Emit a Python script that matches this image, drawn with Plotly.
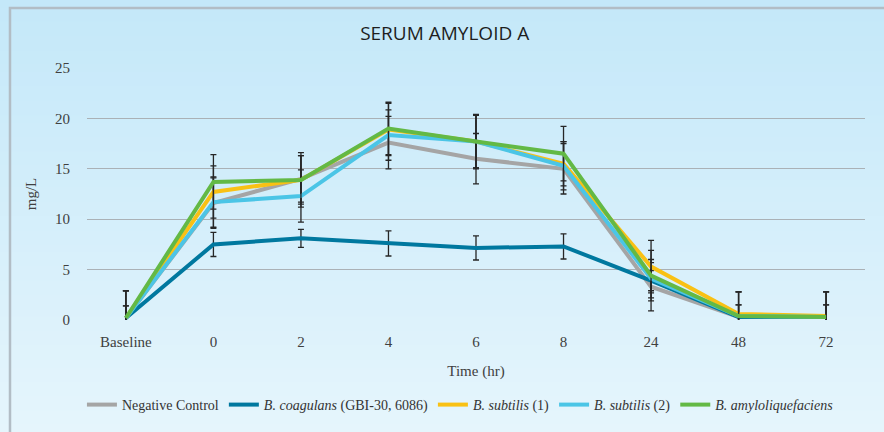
import plotly.graph_objects as go

# ---- data ----
categories = ["Baseline", "0", "2", "4", "6", "8", "24", "48", "72"]
series_names = [
    "Negative Control",
    "<i>B. coagulans</i> (GBI-30, 6086)",
    "<i>B. subtilis</i> (1)",
    "<i>B. subtilis</i> (2)",
    "<i>B. amyloliquefaciens</i>",
]
negative_control = [0.2, 11.6, 14.0, 17.6, 16.0, 15.0, 3.3, 0.3, 0.3]
b_coagulans = [0.2, 7.5, 8.1, 7.6, 7.15, 7.3, 3.9, 0.3, 0.3]
b_subtilis_1 = [0.2, 12.7, 13.9, 18.9, 17.7, 15.5, 5.3, 0.6, 0.4]
b_subtilis_2 = [0.2, 11.7, 12.3, 18.35, 17.7, 15.3, 4.1, 0.4, 0.3]
b_amylo = [0.2, 13.7, 13.9, 19.0, 17.7, 16.5, 4.4, 0.4, 0.3]

negative_control_err = [2.7, 2.5, 2.3, 2.6, 2.5, 2.5, 2.4, 2.5, 2.5]
b_coagulans_err = [1.2, 1.2, 0.9, 1.25, 1.2, 1.25, 1.0, 1.2, 1.2]
b_subtilis_1_err = [2.7, 2.6, 2.4, 2.6, 2.6, 2.2, 2.6, 2.2, 2.4]
b_subtilis_2_err = [1.2, 2.5, 2.6, 2.5, 2.6, 2.4, 1.9, 1.1, 1.2]
b_amylo_err = [2.7, 2.7, 2.7, 2.6, 2.7, 2.7, 2.5, 2.4, 2.5]

y_ticks = [0, 5, 10, 15, 20, 25]

values = [negative_control, b_coagulans, b_subtilis_1, b_subtilis_2, b_amylo]
errors = [negative_control_err, b_coagulans_err, b_subtilis_1_err, b_subtilis_2_err, b_amylo_err]
colors = ["#a5a5a5", "#00789f", "#f9c114", "#4bc5e6", "#63b945"]

# ---- layout geometry ----
W, H = 884, 432
ML, MR, MT, MB = 87, 19, 68, 112
PW, PH = W - ML - MR, H - MT - MB


def px_x(x):
    return (x - ML) / PW


def px_y(y):
    return (H - MB - y) / PH


fig = go.Figure()
for name, v, e, c in zip(series_names, values, errors, colors):
    fig.add_trace(go.Scatter(
        x=categories, y=v, name=name, mode="lines",
        line=dict(color=c, width=4),
        error_y=dict(type="data", array=e, visible=True, color="#262626",
                     thickness=1.3, width=3),
    ))

# gradient background bands
shapes = []
n = 60
top_c = (196, 232, 249)
bot_c = (229, 245, 252)
for i in range(n):
    t = i / (n - 1)
    col = tuple(round(top_c[k] + (bot_c[k] - top_c[k]) * t) for k in range(3))
    y0 = H * i / n
    y1 = H * (i + 1) / n + 1
    shapes.append(dict(type="rect", xref="paper", yref="paper", layer="below",
                       x0=px_x(-2), x1=px_x(W + 2), y0=px_y(y1), y1=px_y(y0),
                       fillcolor="rgb(%d,%d,%d)" % col, line=dict(width=0)))
# frame border
shapes.append(dict(type="path", xref="paper", yref="paper", layer="below",
                   path="M %f,%f L %f,%f L %f,%f" % (px_x(10), px_y(H + 20), px_x(10), px_y(8), px_x(W + 20), px_y(8)),
                   line=dict(color="#b2bdc5", width=2.5)))

fig.update_layout(
    width=W, height=H,
    margin=dict(l=ML, r=MR, t=MT, b=MB, autoexpand=False),
    paper_bgcolor="rgb(212,238,250)",
    plot_bgcolor="rgba(0,0,0,0)",
    shapes=shapes,
    title=dict(text="SERUM AMYLOID A", x=0.503, xanchor="center", y=1 - 33 / H, yanchor="middle",
               font=dict(family="Open Sans", size=19, color="#1e1e1e")),
    font=dict(family="Liberation Serif", size=15, color="#404040"),
    showlegend=True,
    legend=dict(orientation="h", x=0.48, xanchor="center", y=px_y(405), yanchor="middle",
                font=dict(family="Liberation Serif", size=14, color="#333333"),
                bgcolor="rgba(0,0,0,0)", itemwidth=30, tracegroupgap=0),
    xaxis=dict(type="category", categoryorder="array", categoryarray=categories,
               showgrid=False, showline=False, zeroline=False, ticks="",
               ticklabelstandoff=11,
               title=dict(text="Time (hr)", standoff=16, font=dict(size=15, color="#404040")),
               tickfont=dict(size=15, color="#404040")),
    yaxis=dict(range=[0, 25], tickvals=y_ticks, showgrid=True, gridcolor="#aab1b6", gridwidth=1.3,
               zeroline=False, showline=False, ticks="", ticklabelstandoff=16,
               title=dict(text="mg/L", standoff=14, font=dict(size=15, color="#404040")),
               tickfont=dict(size=15, color="#404040")),
)

fig.write_html("out.html", config={"displayModeBar": False},
               post_script="document.body.style.margin='0';document.body.style.padding='0';")
